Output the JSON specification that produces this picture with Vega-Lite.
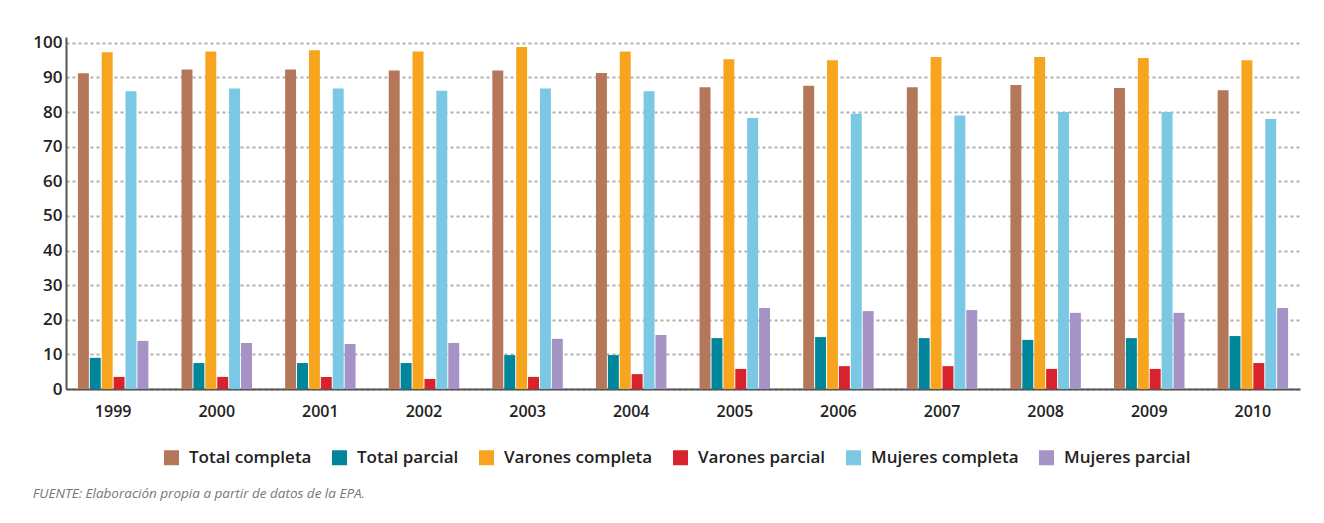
{
  "$schema": "https://vega.github.io/schema/vega-lite/v6.json",
  "autosize": {"type": "none"},
  "width": 1234,
  "height": 352,
  "padding": {"left": 66, "top": 37, "right": 24, "bottom": 134},
  "background": "white",
  "config": {
    "view": {"stroke": null},
    "font": "Open Sans"
  },
  "title": {
    "text": "FUENTE: Elaboración propia a partir de datos de la EPA.",
    "orient": "bottom",
    "anchor": "start",
    "frame": "bounds",
    "font": "Open Sans",
    "fontStyle": "italic",
    "fontWeight": "normal",
    "fontSize": 13.5,
    "color": "#777777",
    "offset": 21
  },
  "data": {
    "values": [
      {"year": "1999", "serie": "Total completa", "value": 91.2},
      {"year": "1999", "serie": "Total parcial", "value": 9.0},
      {"year": "1999", "serie": "Varones completa", "value": 97.3},
      {"year": "1999", "serie": "Varones parcial", "value": 3.5},
      {"year": "1999", "serie": "Mujeres completa", "value": 86.0},
      {"year": "1999", "serie": "Mujeres parcial", "value": 13.9},
      {"year": "2000", "serie": "Total completa", "value": 92.3},
      {"year": "2000", "serie": "Total parcial", "value": 7.5},
      {"year": "2000", "serie": "Varones completa", "value": 97.5},
      {"year": "2000", "serie": "Varones parcial", "value": 3.5},
      {"year": "2000", "serie": "Mujeres completa", "value": 86.8},
      {"year": "2000", "serie": "Mujeres parcial", "value": 13.3},
      {"year": "2001", "serie": "Total completa", "value": 92.3},
      {"year": "2001", "serie": "Total parcial", "value": 7.5},
      {"year": "2001", "serie": "Varones completa", "value": 97.9},
      {"year": "2001", "serie": "Varones parcial", "value": 3.5},
      {"year": "2001", "serie": "Mujeres completa", "value": 86.8},
      {"year": "2001", "serie": "Mujeres parcial", "value": 13.0},
      {"year": "2002", "serie": "Total completa", "value": 92.0},
      {"year": "2002", "serie": "Total parcial", "value": 7.5},
      {"year": "2002", "serie": "Varones completa", "value": 97.5},
      {"year": "2002", "serie": "Varones parcial", "value": 2.9},
      {"year": "2002", "serie": "Mujeres completa", "value": 86.2},
      {"year": "2002", "serie": "Mujeres parcial", "value": 13.3},
      {"year": "2003", "serie": "Total completa", "value": 92.0},
      {"year": "2003", "serie": "Total parcial", "value": 9.8},
      {"year": "2003", "serie": "Varones completa", "value": 98.8},
      {"year": "2003", "serie": "Varones parcial", "value": 3.5},
      {"year": "2003", "serie": "Mujeres completa", "value": 86.8},
      {"year": "2003", "serie": "Mujeres parcial", "value": 14.5},
      {"year": "2004", "serie": "Total completa", "value": 91.3},
      {"year": "2004", "serie": "Total parcial", "value": 9.8},
      {"year": "2004", "serie": "Varones completa", "value": 97.5},
      {"year": "2004", "serie": "Varones parcial", "value": 4.3},
      {"year": "2004", "serie": "Mujeres completa", "value": 86.0},
      {"year": "2004", "serie": "Mujeres parcial", "value": 15.6},
      {"year": "2005", "serie": "Total completa", "value": 87.2},
      {"year": "2005", "serie": "Total parcial", "value": 14.7},
      {"year": "2005", "serie": "Varones completa", "value": 95.3},
      {"year": "2005", "serie": "Varones parcial", "value": 5.8},
      {"year": "2005", "serie": "Mujeres completa", "value": 78.3},
      {"year": "2005", "serie": "Mujeres parcial", "value": 23.4},
      {"year": "2006", "serie": "Total completa", "value": 87.6},
      {"year": "2006", "serie": "Total parcial", "value": 15.0},
      {"year": "2006", "serie": "Varones completa", "value": 95.0},
      {"year": "2006", "serie": "Varones parcial", "value": 6.6},
      {"year": "2006", "serie": "Mujeres completa", "value": 79.5},
      {"year": "2006", "serie": "Mujeres parcial", "value": 22.5},
      {"year": "2007", "serie": "Total completa", "value": 87.2},
      {"year": "2007", "serie": "Total parcial", "value": 14.7},
      {"year": "2007", "serie": "Varones completa", "value": 95.9},
      {"year": "2007", "serie": "Varones parcial", "value": 6.6},
      {"year": "2007", "serie": "Mujeres completa", "value": 79.0},
      {"year": "2007", "serie": "Mujeres parcial", "value": 22.8},
      {"year": "2008", "serie": "Total completa", "value": 87.8},
      {"year": "2008", "serie": "Total parcial", "value": 14.2},
      {"year": "2008", "serie": "Varones completa", "value": 95.9},
      {"year": "2008", "serie": "Varones parcial", "value": 5.8},
      {"year": "2008", "serie": "Mujeres completa", "value": 80.0},
      {"year": "2008", "serie": "Mujeres parcial", "value": 22.0},
      {"year": "2009", "serie": "Total completa", "value": 87.0},
      {"year": "2009", "serie": "Total parcial", "value": 14.7},
      {"year": "2009", "serie": "Varones completa", "value": 95.6},
      {"year": "2009", "serie": "Varones parcial", "value": 5.8},
      {"year": "2009", "serie": "Mujeres completa", "value": 80.0},
      {"year": "2009", "serie": "Mujeres parcial", "value": 22.0},
      {"year": "2010", "serie": "Total completa", "value": 86.3},
      {"year": "2010", "serie": "Total parcial", "value": 15.3},
      {"year": "2010", "serie": "Varones completa", "value": 95.0},
      {"year": "2010", "serie": "Varones parcial", "value": 7.5},
      {"year": "2010", "serie": "Mujeres completa", "value": 78.0},
      {"year": "2010", "serie": "Mujeres parcial", "value": 23.4}
    ]
  },
  "mark": {"type": "bar"},
  "encoding": {
    "x": {
      "field": "year",
      "type": "nominal",
      "title": null,
      "scale": {"paddingInner": 0.32, "paddingOuter": 0.115},
      "axis": {
        "labelAngle": 0,
        "labelFont": "Open Sans",
        "labelFontWeight": 600,
        "labelFontSize": 16,
        "labelColor": "#222222",
        "labelPadding": 14,
        "ticks": false,
        "domainColor": "#555555",
        "domainWidth": 2,
        "grid": false
      }
    },
    "xOffset": {
      "field": "serie",
      "type": "nominal",
      "sort": ["Total completa", "Total parcial", "Varones completa", "Varones parcial", "Mujeres completa", "Mujeres parcial"],
      "scale": {"paddingInner": 0.08}
    },
    "y": {
      "field": "value",
      "type": "quantitative",
      "title": null,
      "scale": {"domain": [0, 101.7], "nice": false},
      "axis": {
        "values": [0, 10, 20, 30, 40, 50, 60, 70, 80, 90, 100],
        "labelFont": "Open Sans",
        "labelFontWeight": 600,
        "labelFontSize": 17,
        "labelColor": "#222222",
        "labelPadding": 4,
        "ticks": false,
        "domainColor": "#555555",
        "domainWidth": 2,
        "grid": true,
        "gridColor": "#b0b0b0",
        "gridWidth": 2,
        "gridDash": [3, 3]
      }
    },
    "color": {
      "field": "serie",
      "type": "nominal",
      "sort": ["Total completa", "Total parcial", "Varones completa", "Varones parcial", "Mujeres completa", "Mujeres parcial"],
      "scale": {
        "domain": ["Total completa", "Total parcial", "Varones completa", "Varones parcial", "Mujeres completa", "Mujeres parcial"],
        "range": ["#b5775a", "#00869a", "#f7a51e", "#d9232c", "#7bc8e5", "#a593c6"]
      },
      "legend": {
        "title": null,
        "orient": "none",
        "legendX": 97,
        "legendY": 412,
        "direction": "horizontal",
        "columns": 6,
        "symbolType": "square",
        "symbolSize": 225,
        "symbolStrokeWidth": 0,
        "labelFont": "Open Sans",
        "labelFontWeight": 600,
        "labelFontSize": 17,
        "labelColor": "#222222",
        "labelOffset": 9,
        "columnPadding": 19
      }
    }
  }
}
